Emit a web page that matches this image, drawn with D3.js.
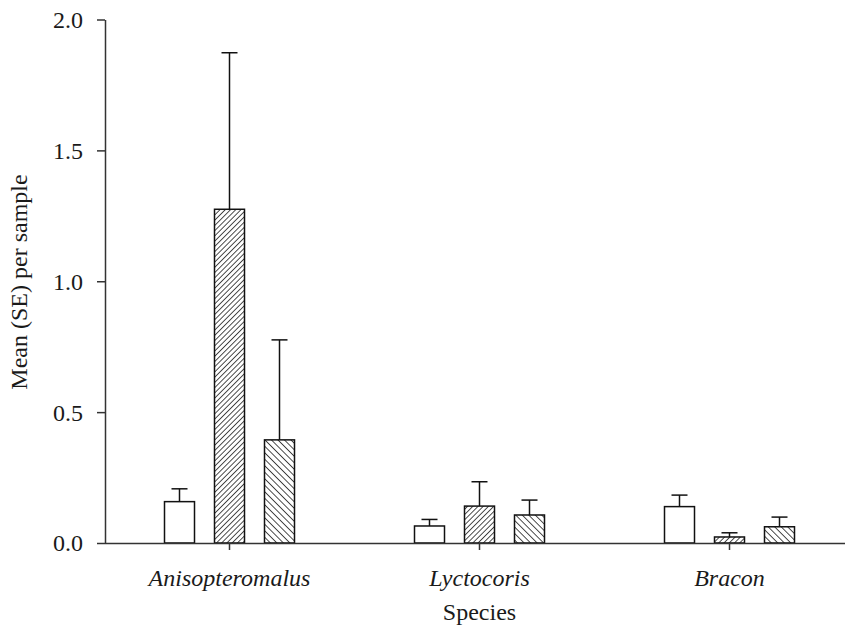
<!DOCTYPE html>
<html>
<head>
<meta charset="utf-8">
<script src="https://cdn.jsdelivr.net/npm/d3@7"></script>
<style>
  body { margin: 0; background: #fff; }
  svg text { font-family: "Liberation Serif", "Times New Roman", serif; fill: #1a1a1a; }
</style>
</head>
<body>
<div id="chart"></div>
<script>
// data
var categories = ["Anisopteromalus", "Lyctocoris", "Bracon"];
var series = ["open", "hatchForward", "hatchBack"];
var means1 = [0.158, 0.065, 0.139];
var means2 = [1.275, 0.141, 0.023];
var means3 = [0.394, 0.107, 0.062];
var se1 = [0.049, 0.025, 0.044];
var se2 = [0.598, 0.093, 0.016];
var se3 = [0.382, 0.057, 0.037];
var yTicks = [0, 0.5, 1.0, 1.5, 2.0];

var w = 845, h = 633;

var svg = d3.select("#chart")
  .append("svg")
  .attr("width", w)
  .attr("height", h);

// hatch fills
var defs = svg.append("defs");
function hatch(id, angle, gap) {
  var p = defs.append("pattern")
    .attr("id", id)
    .attr("patternUnits", "userSpaceOnUse")
    .attr("width", gap)
    .attr("height", gap)
    .attr("patternTransform", "rotate(" + angle + ")");
  p.append("rect").attr("width", gap).attr("height", gap).attr("fill", "#fff");
  p.append("line")
    .attr("x1", 0).attr("y1", 0)
    .attr("x2", 0).attr("y2", gap)
    .attr("stroke", "#111")
    .attr("stroke-width", 1.5);
}
hatch("fwd", 45, 3.7);
hatch("back", -45, 4.6);

var fills = { open: "#fff", hatchForward: "url(#fwd)", hatchBack: "url(#back)" };

// scales
var y = d3.scaleLinear().domain([0, 2]).range([543, 19.5]);
var x = d3.scaleBand().domain(categories).range([104.5, 854.5]);
var xSub = d3.scaleBand().domain(series).range([-75, 75])
  .paddingInner(0.4).paddingOuter(0.2);

// flatten into rows
var rows = [];
categories.forEach(function (c, i) {
  rows.push({ cat: c, s: "open", mean: means1[i], se: se1[i] });
  rows.push({ cat: c, s: "hatchForward", mean: means2[i], se: se2[i] });
  rows.push({ cat: c, s: "hatchBack", mean: means3[i], se: se3[i] });
});

function cx(d) {
  return x(d.cat) + x.bandwidth() / 2 + xSub(d.s) + xSub.bandwidth() / 2;
}

// error bars (upper only)
var err = svg.selectAll("g.err")
  .data(rows)
  .enter().append("g")
  .attr("class", "err")
  .attr("stroke", "#111")
  .attr("stroke-width", 1.5);
err.append("line")
  .attr("x1", cx).attr("x2", cx)
  .attr("y1", function (d) { return y(d.mean); })
  .attr("y2", function (d) { return y(d.mean + d.se); });
err.append("line")
  .attr("x1", function (d) { return cx(d) - 8; })
  .attr("x2", function (d) { return cx(d) + 8; })
  .attr("y1", function (d) { return y(d.mean + d.se); })
  .attr("y2", function (d) { return y(d.mean + d.se); });

// bars
svg.selectAll("rect.bar")
  .data(rows)
  .enter().append("rect")
  .attr("class", "bar")
  .attr("x", function (d) { return x(d.cat) + x.bandwidth() / 2 + xSub(d.s); })
  .attr("y", function (d) { return y(d.mean); })
  .attr("width", xSub.bandwidth())
  .attr("height", function (d) { return y(0) - y(d.mean); })
  .attr("fill", function (d) { return fills[d.s]; })
  .attr("stroke", "#111")
  .attr("stroke-width", 1.5);

// y axis
var yAxis = svg.append("g")
  .attr("transform", "translate(105,0)")
  .call(d3.axisLeft(y).tickValues(yTicks).tickFormat(d3.format(".1f"))
    .tickSize(8).tickSizeOuter(0).tickPadding(14));
yAxis.selectAll("path, line").attr("stroke", "#333").attr("stroke-width", 1.5);
yAxis.selectAll("text")
  .style("font-size", "24px")
  .attr("dy", "0.33em");

// x axis
var xAxis = svg.append("g")
  .attr("transform", "translate(0,543)")
  .call(d3.axisBottom(x).tickSize(7).tickSizeOuter(0));
xAxis.selectAll("path, line").attr("stroke", "#333").attr("stroke-width", 1.5);
xAxis.selectAll("text")
  .attr("y", 43)
  .attr("dy", 0)
  .style("font-size", "24px")
  .style("font-style", "italic");

// axis titles
svg.append("text")
  .attr("x", 479.5)
  .attr("y", 620)
  .attr("text-anchor", "middle")
  .style("font-size", "24px")
  .text("Species");

svg.append("text")
  .attr("transform", "translate(27,282) rotate(-90)")
  .attr("text-anchor", "middle")
  .style("font-size", "24px")
  .text("Mean (SE) per sample");
</script>
</body>
</html>
